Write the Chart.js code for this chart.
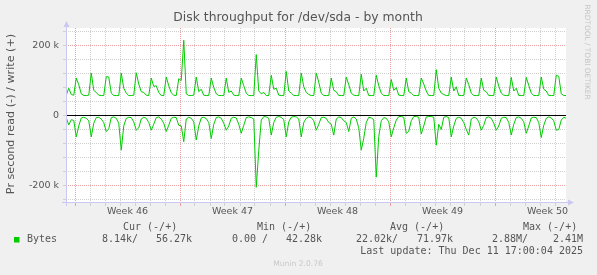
<!DOCTYPE html>
<html>
<head>
<meta charset="utf-8">
<style>
  html, body { margin: 0; padding: 0; background: #f0f0f0; }
  canvas { display: block; }
</style>
</head>
<body>
<canvas id="grafico" width="597" height="275"></canvas>
<script src="https://cdn.jsdelivr.net/npm/chart.js@4/dist/chart.umd.min.js"></script>
<script>
// Escrita em kB/s, uma amostra a cada 4 horas (h2, h6, h10, h14, h18, h22 de cada dia)
const escrita = [
    58, 78, 60, 58,
    107, 88, 62, 57, 57, 58,
    121, 72, 66, 58, 57, 57,
    111, 110, 64, 57, 57, 57,
    121, 78, 64, 57, 57, 58,
    122, 90, 68, 66, 58, 57,
    107, 83, 85, 66, 57, 57,
    110, 85, 65, 58, 57, 105,
    100, 215, 62, 57, 57, 58,
    110, 68, 75, 58, 57, 57,
    107, 80, 62, 57, 57, 57,
    107, 66, 70, 58, 57, 57,
    107, 85, 64, 57, 57, 57,
    174, 70, 62, 66, 57, 57,
    115, 75, 78, 58, 57, 57,
    126, 70, 64, 57, 57, 57,
    121, 82, 66, 60, 57, 57,
    121, 95, 64, 57, 57, 57,
    107, 72, 68, 57, 57, 57,
    110, 88, 64, 58, 57, 57,
    118, 70, 78, 57, 57, 57,
    115, 85, 64, 57, 57, 57,
    103, 72, 80, 58, 57, 57,
    107, 68, 64, 57, 57, 57,
    107, 90, 70, 57, 57, 57,
    131, 78, 64, 60, 57, 57,
    110, 70, 82, 57, 57, 57,
    107, 88, 64, 57, 57, 57,
    107, 72, 68, 57, 57, 57,
    110, 84, 64, 58, 57, 57,
    109, 70, 78, 57, 57, 57,
    109, 86, 64, 57, 57, 57,
    110, 75, 70, 57, 57, 57,
    115, 112, 62, 57, 57
];

// Leitura em kB/s (desenhada para baixo, como no munin)
const leitura = [
    6, 27, 12, 14,
    61, 30, 7, 5, 8, 15,
    61, 22, 6, 5, 10, 20,
    46, 38, 6, 4, 8, 22,
    99, 30, 8, 5, 6, 18,
    42, 35, 10, 5, 8, 20,
    42, 25, 6, 4, 10, 22,
    46, 28, 8, 5, 6, 28,
    30, 75, 10, 5, 8, 18,
    70, 30, 7, 5, 9, 20,
    66, 25, 6, 4, 8, 22,
    42, 30, 8, 5, 7, 25,
    51, 28, 6, 4, 6, 10,
    205, 100, 13, 3, 4, 8,
    56, 20, 5, 3, 5, 12,
    61, 18, 5, 3, 4, 10,
    61, 20, 8, 4, 6, 15,
    42, 25, 6, 5, 8, 20,
    25, 56, 10, 4, 6, 15,
    20, 46, 8, 4, 10, 35,
    99, 65, 20, 5, 7, 12,
    176, 60, 15, 6, 8, 18,
    61, 35, 13, 3, 3, 5,
    51, 45, 15, 3, 3, 5,
    53, 30, 4, 3, 3, 5,
    85, 25, 40, 5, 3, 6,
    61, 30, 8, 5, 8, 20,
    40, 56, 10, 5, 7, 18,
    42, 28, 6, 4, 8, 22,
    42, 30, 8, 5, 6, 20,
    56, 25, 6, 4, 8, 18,
    51, 30, 7, 5, 6, 20,
    63, 28, 8, 4, 7, 15,
    42, 40, 13, 5, 8
];

const semanas = ["Week 46", "Week 47", "Week 48", "Week 49", "Week 50"];
const cabecalhos = ["Cur (-/+)", "Min (-/+)", "Avg (-/+)", "Max (-/+)"];
const valoresLeitura = ["8.14k/", "0.00 /", "22.02k/", "2.88M/"];
const valoresEscrita = ["56.27k", "42.28k", "71.97k", "2.41M"];
const ultimaAtualizacao = "Last update: Thu Dec 11 17:00:04 2025";

// Eixo x em dias a partir da borda esquerda; meia-noite de segunda em 0.6 + 7n
const inicio = 1 / 60;
const passo = 1 / 6;
const meiaNoite = 0.6;

const pontosEscrita = escrita.map((v, i) => ({ x: inicio + i * passo, y: v * 1000 }));
const pontosLeitura = leitura.map((v, i) => ({ x: inicio + i * passo, y: -v * 1000 }));

const posSemanas = semanas.map((s, k) => meiaNoite + 3.5 + 7 * k);

const CINZA = "#d0d0d0";
const VERMELHO = "#e8a0a0";
const TEXTO = "#555555";
const INVISIVEL = "rgba(0,0,0,0)";

// Fundo cinza, área branca, setas dos eixos e textos do munin
const moldura = {
    id: "moldura",
    beforeDraw(chart) {
        const { ctx, chartArea: a } = chart;
        ctx.save();
        ctx.fillStyle = "#f0f0f0";
        ctx.fillRect(0, 0, chart.width, chart.height);
        ctx.fillStyle = "#ffffff";
        ctx.fillRect(a.left, a.top, a.right - a.left, a.bottom - a.top);
        ctx.restore();
    },
    afterDraw(chart) {
        const { ctx, chartArea: a } = chart;
        ctx.save();

        // eixos
        ctx.strokeStyle = "#c8c8f0";
        ctx.fillStyle = "#c8c8f0";
        ctx.lineWidth = 1;
        ctx.beginPath();
        ctx.moveTo(a.left + 0.5, a.bottom + 3);
        ctx.lineTo(a.left + 0.5, a.top - 3);
        ctx.moveTo(a.left - 4, a.bottom - 0.5);
        ctx.lineTo(a.right + 3, a.bottom - 0.5);
        ctx.stroke();
        ctx.beginPath();
        ctx.moveTo(a.left - 2.5, a.top - 1);
        ctx.lineTo(a.left + 3.5, a.top - 1);
        ctx.lineTo(a.left + 0.5, a.top - 7);
        ctx.closePath();
        ctx.fill();
        ctx.beginPath();
        ctx.moveTo(a.right + 2, a.bottom - 3.5);
        ctx.lineTo(a.right + 2, a.bottom + 2.5);
        ctx.lineTo(a.right + 8, a.bottom - 0.5);
        ctx.closePath();
        ctx.fill();

        ctx.textBaseline = "middle";

        // título
        ctx.fillStyle = TEXTO;
        ctx.textAlign = "center";
        ctx.font = '12.4px "DejaVu Sans"';
        ctx.fillText("Disk throughput for /dev/sda - by month", 298, 18);

        // título do eixo y
        ctx.save();
        ctx.translate(11, 114);
        ctx.rotate(-Math.PI / 2);
        ctx.font = '11.2px "DejaVu Sans"';
        ctx.fillText("Pr second read (-) / write (+)", 0, 0);
        ctx.restore();

        // marca lateral
        ctx.save();
        ctx.translate(587, 52);
        ctx.rotate(Math.PI / 2);
        ctx.fillStyle = "#c4c4c4";
        ctx.font = '7.4px "DejaVu Sans"';
        ctx.fillText("RRDTOOL / TOBI OETIKER", 0, 0);
        ctx.restore();

        // legenda
        ctx.font = '10px "DejaVu Sans Mono"';
        ctx.fillStyle = TEXTO;
        ctx.textAlign = "left";
        const colHead = [123, 257, 390, 523];
        const colLeit = [102, 232, 356, 492];
        const colEscr = [192, 322, 453, 583];
        cabecalhos.forEach((t, k) => ctx.fillText(t, colHead[k], 227.5));
        ctx.fillText("Bytes", 27, 239.5);
        valoresLeitura.forEach((t, k) => ctx.fillText(t, colLeit[k], 239.5));
        ctx.textAlign = "right";
        valoresEscrita.forEach((t, k) => ctx.fillText(t, colEscr[k], 239.5));
        ctx.fillText(ultimaAtualizacao, 583, 251.5);

        ctx.fillStyle = "#00cc00";
        ctx.fillRect(14, 237, 5.5, 5.5);

        ctx.fillStyle = "#c8c8c8";
        ctx.textAlign = "center";
        ctx.font = '7.6px "DejaVu Sans"';
        ctx.fillText("Munin 2.0.76", 298, 264);

        ctx.restore();
    }
};

new Chart(document.getElementById("grafico"), {
    type: "line",
    data: {
        datasets: [{
            label: "write",
            data: pontosEscrita,
            borderColor: "#00cc00",
            borderWidth: 1,
            pointRadius: 0,
            fill: false,
            tension: 0
        }, {
            label: "read",
            data: pontosLeitura,
            borderColor: "#00cc00",
            borderWidth: 1,
            pointRadius: 0,
            fill: false,
            tension: 0
        }]
    },
    options: {
        responsive: false,
        animation: false,
        devicePixelRatio: 1,
        layout: { autoPadding: false, padding: { left: 0, top: 28, right: 31, bottom: 52 } },
        plugins: { legend: { display: false }, tooltip: { enabled: false } },
        scales: {
            x: {
                type: "linear",
                bounds: "data",
                min: 0,
                max: 500 / 15,
                afterFit: s => { s.height = 20; },
                afterBuildTicks: s => {
                    const ticks = [];
                    for (let d = 0; d < 33; d++) ticks.push({ value: meiaNoite + d, dia: d });
                    posSemanas.forEach((p, k) => ticks.push({ value: p, semana: k }));
                    ticks.sort((a, b) => a.value - b.value);
                    s.ticks = ticks;
                },
                ticks: {
                    autoSkip: false,
                    maxRotation: 0,
                    padding: 0,
                    color: TEXTO,
                    font: { family: "DejaVu Sans", size: 9.5 },
                    callback: (v, i, ticks) => {
                        const t = ticks[i];
                        return t && t.semana !== undefined ? semanas[t.semana] : "";
                    }
                },
                grid: {
                    tickLength: 3,
                    color: c => {
                        const t = c.tick;
                        if (!t || t.dia === undefined) return INVISIVEL;
                        return t.dia % 7 === 0 ? VERMELHO : CINZA;
                    },
                    tickColor: c => {
                        const t = c.tick;
                        if (!t || t.dia === undefined) return INVISIVEL;
                        return t.dia % 7 === 0 ? VERMELHO : CINZA;
                    }
                },
                border: { display: false, dash: [1, 1] }
            },
            y: {
                type: "linear",
                bounds: "data",
                min: -250000,
                max: 250000,
                afterFit: s => { s.width = 66; },
                afterBuildTicks: s => {
                    const ticks = [];
                    for (let v = -240000; v <= 240000; v += 20000) ticks.push({ value: v });
                    s.ticks = ticks;
                },
                ticks: {
                    padding: 4,
                    color: TEXTO,
                    font: { family: "DejaVu Sans", size: 9.5 },
                    callback: v => {
                        if (v === 0) return "0";
                        return v % 100000 === 0 ? (v / 1000) + " k" : "";
                    }
                },
                grid: {
                    tickLength: 3,
                    color: c => {
                        const v = c.tick ? c.tick.value : 1;
                        if (v === 0) return "#000000";
                        return v % 100000 === 0 ? VERMELHO : CINZA;
                    },
                    tickColor: CINZA
                },
                border: {
                    display: false,
                    dash: c => (c.tick && c.tick.value === 0) ? [] : [1, 1]
                }
            }
        }
    },
    plugins: [moldura]
});
</script>
</body>
</html>
